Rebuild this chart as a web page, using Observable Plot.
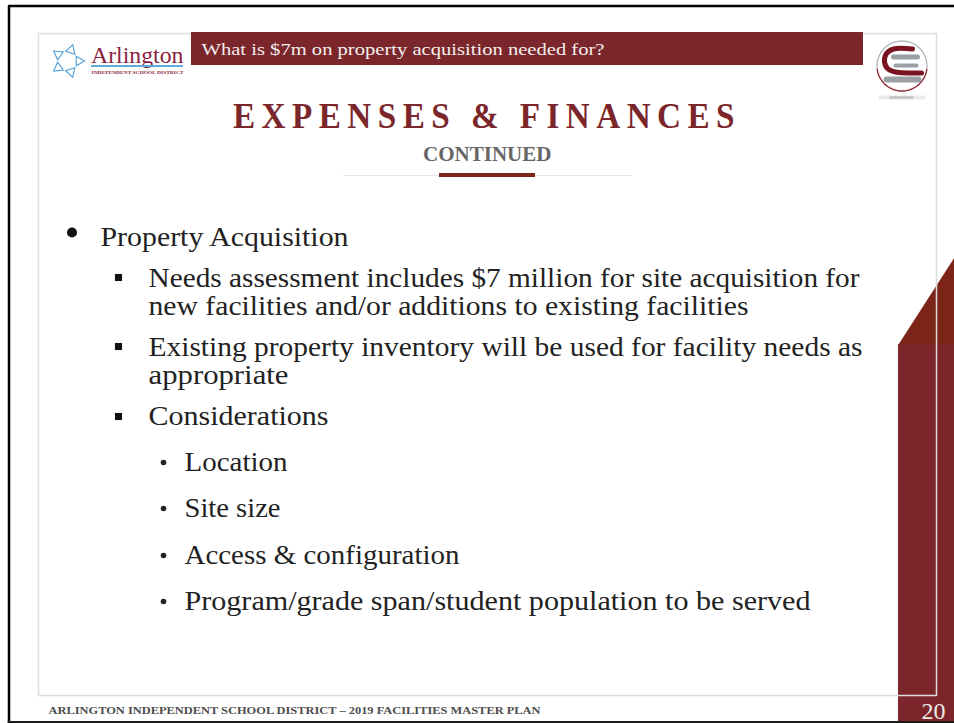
<!DOCTYPE html>
<html><head><meta charset="utf-8">
<script src="https://cdn.jsdelivr.net/npm/d3@7"></script>
<script src="https://cdn.jsdelivr.net/npm/@observablehq/plot@0.6"></script>
<style>html,body{margin:0;padding:0;background:#fff;overflow:hidden}svg{display:block}</style>
</head><body><div id="c"></div>
<script>
const SERIF = '"Liberation Serif","DejaVu Serif",serif';
const MAROON = "#7b262a";
const bannerText = ["What is $7m on property acquisition needed for?"];
const titleText = ["EXPENSES & FINANCES"];
const subtitleText = ["CONTINUED"];
const level1Text = ["Property Acquisition"];
const level2Text = [
  "Needs assessment includes $7 million for site acquisition for",
  "new facilities and/or additions to existing facilities",
  "Existing property inventory will be used for facility needs as",
  "appropriate",
  "Considerations"
];
const level3Text = ["Location","Site size","Access & configuration","Program/grade span/student population to be served"];
const footerText = ["ARLINGTON INDEPENDENT SCHOOL DISTRICT – 2019 FACILITIES MASTER PLAN"];
const pageNumber = ["20"];

function txt(lines, xs, baselines, widths, size, fill, extra={}, spacing=null) {
  const rows = lines.map((t,i)=>({t, x:xs[i], y:baselines[i]-0.32*size}));
  return Plot.text(rows, {
    x:"x", y:"y", text:"t", textAnchor:"start", lineAnchor:"middle",
    fontSize:size, fontFamily:SERIF, fill, ...extra,
    render(index, scales, values, dims, ctx, next) {
      const g = next(index, scales, values, dims, ctx);
      const s = d3.select(g).selectAll("text")
        .attr("textLength", i=>widths[i]).attr("lengthAdjust","spacingAndGlyphs");
      if (spacing != null) s.attr("letter-spacing", spacing);
      return g;
    }
  });
}
function box(x1,x2,y1,y2,fill,extra={}) { return Plot.rect([{x1,x2,y1,y2}],{x1:"x1",x2:"x2",y1:"y1",y2:"y2",fill,...extra}); }
function poly(pts,opts) { return Plot.line(pts,{x:"0",y:"1",...opts}); }
function arc(cx,cy,r,a0,a1,n=40){return d3.range(n+1).map(i=>{const a=(a0+(a1-a0)*i/n)*Math.PI/180;return [cx+r*Math.cos(a),cy+r*Math.sin(a)];});}

const starAngles = [-72,0,72,144,216];
const starPts = starAngles.map(a=>({x:67+11.5*Math.cos(a*Math.PI/180),y:60.5+11.5*Math.sin(a*Math.PI/180),rot:a+90}));

const chart = Plot.plot({
  width:954,height:723,margin:0,
  x:{domain:[0,954],range:[0,954],axis:null},
  y:{domain:[0,723],range:[0,723],axis:null},
  style:{background:"#fff"},
  marks:[
    box(898,954,344,723,"#7c262b"),
    Plot.line([[898,344],[954,257],[954,344],[898,344]],{x:"0",y:"1",fill:"#7b2519",stroke:null}),
    poly([[38,33],[936,33],[936,695],[38,695],[38,33]],{stroke:"#dddddd",strokeWidth:1.5}),
    poly([[8.5,723],[8.5,5.5],[954,5.5]],{stroke:"#000",strokeWidth:2.5}),
    poly([[8,721.5],[954,721.5]],{stroke:"#1a1a1a",strokeWidth:2}),
    box(191,863,32,65,MAROON),
    txt(bannerText,[201],[54],[403],17,"#f2eeee"),
    Plot.dot(starPts,{x:"x",y:"y",symbol:"triangle",r:3.6,rotate:"rot",stroke:"#4f9fd6",strokeWidth:1.1,fill:"none"}),
    txt(["Arlington"],[90.5],[62.5],[92.5],23,"#8a1f3f"),
    box(91,183,65,67,"#62a8d8"),
    txt(["INDEPENDENT SCHOOL DISTRICT"],[91],[73.5],[92],4.6,"#8a1f3f",{fontWeight:"bold"}),
    poly(arc(901.5,65.5,25,-188,8),{stroke:"#a9aeb2",strokeWidth:1.2}),
    poly(arc(901.5,65.5,25,8,172),{stroke:"#8f2a38",strokeWidth:1.4}),
    poly([[893,56.5],[917,56.5]],{stroke:"#9aa0a4",strokeWidth:5}),
    poly([[895,65],[916,65]],{stroke:"#9aa0a4",strokeWidth:4}),
    poly([[886,79],[918,79]],{stroke:"#9aa0a4",strokeWidth:6}),
    poly([[912,48.5],[893,48.5],[886,53],[884,61],[887,68],[895,71.5],[921,72.5]],{stroke:"#7a1420",strokeWidth:5,curve:"catmull-rom"}),
    poly([[880,97],[923,97]],{stroke:"#b5b5b5",strokeWidth:4,strokeOpacity:0.3,strokeLinecap:"round"}),
    poly([[890,97],[912,97]],{stroke:"#8a8a8a",strokeWidth:2.5,strokeOpacity:0.4,strokeLinecap:"round"}),
    txt(titleText,[232.5],[127],[508],36,MAROON,{fontWeight:"bold"},7),
    txt(subtitleText,[422.5],[160],[128.5],20,"#666",{fontWeight:"bold"}),
    poly([[343,175],[631,175]],{stroke:"#e6e6e6",strokeWidth:1.2}),
    box(439,535,173,177,"#7b2519"),
    Plot.dot([[71.5,232]],{x:"0",y:"1",r:5,fill:"#111"}),
    txt(level1Text,[100],[245],[248],28,"#222"),
    Plot.dot([[118,277],[118,346],[118,416]],{x:"0",y:"1",symbol:"square",r:4,fill:"#111"}),
    txt(level2Text,[148,148,148,148,148],[286,314,355,383,424],[711,600,714,140,180],28,"#222"),
    Plot.dot([[163,462],[163,508],[163,555],[163,601]],{x:"0",y:"1",r:2.8,fill:"#222"}),
    txt(level3Text,[184,184,184,184],[470,516,563,609],[103,96,275,626],28,"#222"),
    txt(footerText,[48],[713],[492],11,"#4d4d4d",{fontWeight:"bold"}),
    txt(pageNumber,[921],[718],[24],24,"#eeeaea")
  ]
});
document.getElementById("c").appendChild(chart);
</script></body></html>
